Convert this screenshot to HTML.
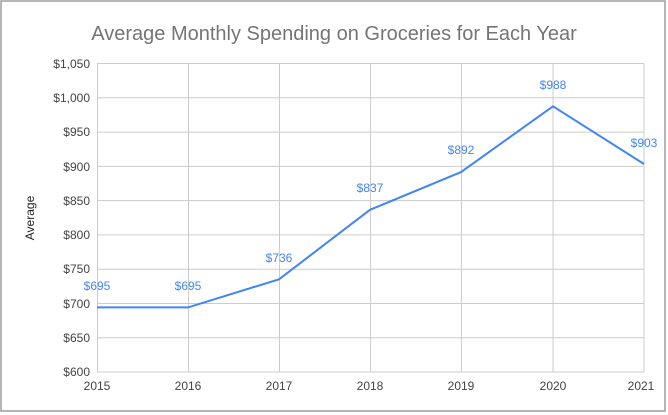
<!DOCTYPE html>
<html><head><style>
body{margin:0;background:#fff;}
svg{display:block;font-family:"Liberation Sans",Arial,sans-serif;}
</style></head><body>
<svg width="668" height="415" viewBox="0 0 668 415">
<rect x="1" y="1" width="664" height="410" fill="#fff" stroke="#9e9e9e" stroke-width="1.5"/>
<text x="334" y="40" text-anchor="middle" font-size="20" fill="#757575">Average Monthly Spending on Groceries for Each Year</text>
<g stroke="#cccccc" stroke-width="1">
<line x1="97" y1="63.5" x2="644" y2="63.5"/>
<line x1="97" y1="97.8" x2="644" y2="97.8"/>
<line x1="97" y1="132.1" x2="644" y2="132.1"/>
<line x1="97" y1="166.4" x2="644" y2="166.4"/>
<line x1="97" y1="200.6" x2="644" y2="200.6"/>
<line x1="97" y1="234.9" x2="644" y2="234.9"/>
<line x1="97" y1="269.2" x2="644" y2="269.2"/>
<line x1="97" y1="303.5" x2="644" y2="303.5"/>
<line x1="97" y1="337.7" x2="644" y2="337.7"/>
<line x1="97" y1="372" x2="644" y2="372"/>
<line x1="97.5" y1="63.5" x2="97.5" y2="372"/>
<line x1="188.5" y1="63.5" x2="188.5" y2="372"/>
<line x1="279.5" y1="63.5" x2="279.5" y2="372"/>
<line x1="370.5" y1="63.5" x2="370.5" y2="372"/>
<line x1="461.5" y1="63.5" x2="461.5" y2="372"/>
<line x1="553" y1="63.5" x2="553" y2="372"/>
<line x1="644" y1="63.5" x2="644" y2="372"/>
</g>
<g font-size="12" fill="#444" text-anchor="end">
<text x="90" y="68">$1,050</text><text x="90" y="102">$1,000</text><text x="90" y="136">$950</text>
<text x="90" y="171">$900</text><text x="90" y="205">$850</text><text x="90" y="239">$800</text>
<text x="90" y="273">$750</text><text x="90" y="308">$700</text><text x="90" y="342">$650</text>
<text x="90" y="376">$600</text>
</g>
<g font-size="12" fill="#444" text-anchor="middle">
<text x="97" y="390">2015</text><text x="188" y="390">2016</text><text x="279" y="390">2017</text>
<text x="370" y="390">2018</text><text x="461" y="390">2019</text><text x="553" y="390">2020</text>
<text x="641" y="390">2021</text>
</g>
<text transform="translate(34,218) rotate(-90)" text-anchor="middle" font-size="12" fill="#222">Average</text>
<polyline fill="none" stroke="#4285f4" stroke-width="2" points="97,307.4 188,307.4 279,279.3 370,209.8 461,172.1 553,106.3 644,164"/>
<g font-size="12" fill="#4285f4" text-anchor="middle">
<text x="97" y="290">$695</text><text x="188" y="290">$695</text><text x="279" y="262">$736</text>
<text x="370" y="192">$837</text><text x="461" y="154">$892</text><text x="553" y="89">$988</text>
<text x="644" y="147">$903</text>
</g>
</svg>
</body></html>
